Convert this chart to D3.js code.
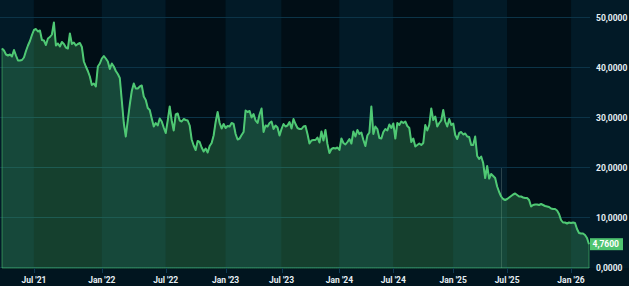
<!DOCTYPE html>
<html>
<head>
<meta charset="utf-8">
<script src="https://cdn.jsdelivr.net/npm/d3@7"></script>
<style>
    html, body { margin: 0; padding: 0; background: #01151f; }
    svg { display: block; }
    text { font-family: Roboto, "Noto Sans", sans-serif; }
</style>
</head>
<body>
<div id="chart"></div>
<script>
    // Start date of each period; every tick label sits on one of these
    const periodStarts = ["2021-03-29", "2021-07-01", "2022-01-01", "2022-07-01", "2023-01-01",
        "2023-07-01", "2024-01-01", "2024-07-01", "2025-01-01", "2025-07-01", "2026-01-01"];
    const periodEnd = "2026-02-06";

    // Prices, one array per period
    const mar21 = [43.9, 43.5, 42.7, 42.5, 42.7, 42.3, 43.6, 42.5, 41.5, 41.5, 41.6, 42.1, 43.4, 44.5, 45.4, 46.6];
    const jul21 = [47.6, 47.8, 47.3, 47.5, 45.6, 45.5, 44.6, 45.9, 46.2, 46.7, 49.1, 44.5, 44.9, 44.3, 45.2, 44.8, 44.1,
        43.9, 46.9, 44.8, 45.1, 44.5, 44.8, 45.0, 44.2, 41.3, 40.3, 39.4, 38.3, 36.6, 36.9, 36.3, 40.3, 40.9];
    const jan22 = [41.9, 42.4, 41.9, 41.3, 39.8, 40.9, 40.3, 39.4, 38.8, 38.0, 33.5, 29.0, 26.3, 29.5, 32.7, 35.4,
        36.9, 35.9, 35.9, 36.3, 36.5, 34.3, 33.6, 32.0, 31.6, 29.9, 28.3, 29.0, 28.5, 29.9, 29.3, 28.1];
    const jul22 = [27.0, 29.5, 32.3, 29.5, 27.5, 30.7, 30.9, 29.5, 29.3, 29.8, 29.6, 29.5, 28.5, 25.7, 24.5, 23.6,
        25.4, 25.2, 24.1, 23.3, 23.9, 23.1, 24.4, 25.0, 26.5, 29.2, 31.2, 29.0, 27.9, 28.8];
    const jan23 = [28.0, 28.4, 28.3, 29.0, 28.8, 26.8, 25.7, 25.9, 26.6, 27.2, 31.5, 31.2, 31.4, 30.1, 30.8, 29.5,
        29.0, 30.7, 31.9, 27.2, 28.5, 28.3, 29.0, 29.3, 27.8, 28.5, 28.1, 26.5];
    const jul23 = [27.8, 28.8, 28.3, 28.5, 29.2, 27.9, 29.8, 28.8, 28.0, 27.8, 27.8, 28.3, 28.4, 26.8, 24.9, 25.5,
        25.6, 25.6, 26.1, 25.1, 27.3, 25.5, 27.6, 24.8, 23.0, 23.8, 24.0, 23.9, 24.1];
    const jan24 = [23.6, 25.9, 25.0, 24.7, 25.2, 25.8, 24.9, 27.3, 26.3, 27.6, 26.8, 27.1, 25.6, 24.4, 26.5, 27.1,
        32.3, 26.8, 28.3, 27.8, 26.0, 25.9, 27.2, 27.8, 27.5, 28.7, 28.0];
    const jul24 = [28.9, 25.9, 29.0, 28.6, 29.3, 29.0, 29.3, 28.4, 28.0, 25.2, 25.9, 24.3, 24.6, 24.9, 24.6, 25.0,
        28.6, 27.5, 28.6, 31.9, 29.6, 30.3, 28.3, 29.0, 29.5, 31.6, 29.3, 28.3, 29.8, 28.6];
    const jan25 = [28.9, 26.6, 25.8, 27.0, 27.2, 26.7, 26.9, 26.3, 26.2, 24.6, 24.6, 26.3, 22.4, 21.8, 22.3, 21.0,
        18.0, 20.4, 17.9, 18.8, 18.4, 18.0, 16.3, 15.2, 14.3, 13.8, 13.6];
    const jul25 = [13.8, 14.1, 14.4, 14.7, 14.9, 14.6, 14.3, 14.3, 14.1, 14.0, 14.0, 13.6, 12.3, 12.6, 12.7, 12.7,
        12.6, 12.8, 12.6, 12.4, 12.3, 12.2, 11.9, 11.8, 11.8, 11.5, 10.8, 9.6, 9.1, 9.1, 8.9, 9.1];
    const jan26 = [9.0, 9.1, 9.0, 7.8, 7.0, 6.9, 6.9, 6.6, 6.0, 4.76];

    const periods = [mar21, jul21, jan22, jul22, jan23, jul23, jan24, jul24, jan25, jul25, jan26];
    const yTicks = [0, 10, 20, 30, 40, 50];
    const guideDate = "2025-06-10";   // faint vertical guide line
    const guideTop = 20;

    const width = 629, height = 286;
    const plot = { left: 2, right: 589, top: 18, bottom: 268 };

    const parse = d3.timeParse("%Y-%m-%d");
    const starts = periodStarts.map(parse);
    const ends = starts.slice(1).concat([parse(periodEnd)]);

    const data = [];
    periods.forEach((vals, k) => {
        const step = (ends[k] - starts[k]) / vals.length;
        vals.forEach((v, i) => data.push({ date: new Date(+starts[k] + i * step), value: v }));
    });

    // bar-index based time axis, like most trading charts
    const x = d3.scaleLinear().domain([0, data.length - 1]).range([plot.left, plot.right]);
    const y = d3.scaleLinear().domain([0, 50]).range([plot.bottom, plot.top]);

    const indexOf = dt => d3.bisector(d => d.date).left(data, dt);
    const tickIdx = starts.slice(1).map(indexOf);
    const fmtTick = d3.timeFormat("%b '%y");
    const fmtVal = v => d3.format(".4f")(v).replace(".", ",");

    const svg = d3.select("#chart").append("svg")
        .attr("width", width)
        .attr("height", height);

    // alternating period bands
    const edges = [0].concat(tickIdx.map(i => x(i)), [width]);
    svg.append("g").selectAll("rect")
        .data(d3.pairs(edges))
        .enter().append("rect")
        .attr("x", d => d[0])
        .attr("y", 0)
        .attr("width", d => d[1] - d[0])
        .attr("height", plot.bottom)
        .attr("fill", (d, i) => i % 2 === 0 ? "#021a27" : "#010e16");

    // grid lines
    svg.append("g").selectAll("line")
        .data(yTicks)
        .enter().append("line")
        .attr("x1", 0)
        .attr("x2", plot.right + 1)
        .attr("y1", d => Math.round(y(d)) - 0.5)
        .attr("y2", d => Math.round(y(d)) - 0.5)
        .attr("stroke", "#0c3448")
        .attr("stroke-width", 1);

    // faint guide line
    const gi = indexOf(parse(guideDate));
    svg.append("line")
        .attr("x1", Math.round(x(gi)) + 0.5)
        .attr("x2", Math.round(x(gi)) + 0.5)
        .attr("y1", y(guideTop))
        .attr("y2", y(0))
        .attr("stroke", "rgba(190,215,205,0.22)")
        .attr("stroke-width", 1);

    const area = d3.area()
        .x((d, i) => x(i))
        .y0(y(0))
        .y1(d => y(d.value));

    const line = d3.line()
        .x((d, i) => x(i))
        .y(d => y(d.value));

    svg.append("path")
        .datum(data)
        .attr("d", area)
        .attr("fill", "rgba(76,200,112,0.27)")
        .attr("stroke", "rgba(76,200,112,0.55)")
        .attr("stroke-width", 1);

    svg.append("path")
        .datum(data)
        .attr("d", line)
        .attr("fill", "none")
        .attr("stroke", "#4fc874")
        .attr("stroke-width", 2)
        .attr("stroke-linejoin", "round");

    // x axis
    const xAxis = svg.append("g");
    xAxis.selectAll("line")
        .data(tickIdx)
        .enter().append("line")
        .attr("x1", d => Math.round(x(d)) + 0.5)
        .attr("x2", d => Math.round(x(d)) + 0.5)
        .attr("y1", plot.bottom)
        .attr("y2", plot.bottom + 5)
        .attr("stroke", "#0f3a52");
    xAxis.selectAll("text")
        .data(tickIdx)
        .enter().append("text")
        .attr("x", d => x(d))
        .attr("y", 280)
        .attr("dy", "0.35em")
        .attr("text-anchor", "middle")
        .attr("font-size", "8.5px")
        .attr("font-weight", 700)
        .attr("fill", "#e6eff4")
        .text(d => fmtTick(data[d].date));

    // y axis on the right
    svg.append("g").selectAll("text")
        .data(yTicks)
        .enter().append("text")
        .attr("x", 596)
        .attr("y", d => y(d))
        .attr("dy", "0.35em")
        .attr("font-size", "8.5px")
        .attr("font-weight", 700)
        .attr("fill", "#e6eff4")
        .text(fmtVal);

    // last price label
    const last = data[data.length - 1];
    const tag = svg.append("g").attr("transform", `translate(590,${y(last.value)})`);
    tag.append("rect")
        .attr("x", 0)
        .attr("y", -6)
        .attr("width", 33)
        .attr("height", 12)
        .attr("fill", "#4fc470");
    tag.append("text")
        .attr("x", 2.5)
        .attr("y", 0)
        .attr("dy", "0.35em")
        .attr("font-size", "8.5px")
        .attr("font-weight", 700)
        .attr("fill", "#ffffff")
        .text(fmtVal(last.value));
</script>
</body>
</html>
